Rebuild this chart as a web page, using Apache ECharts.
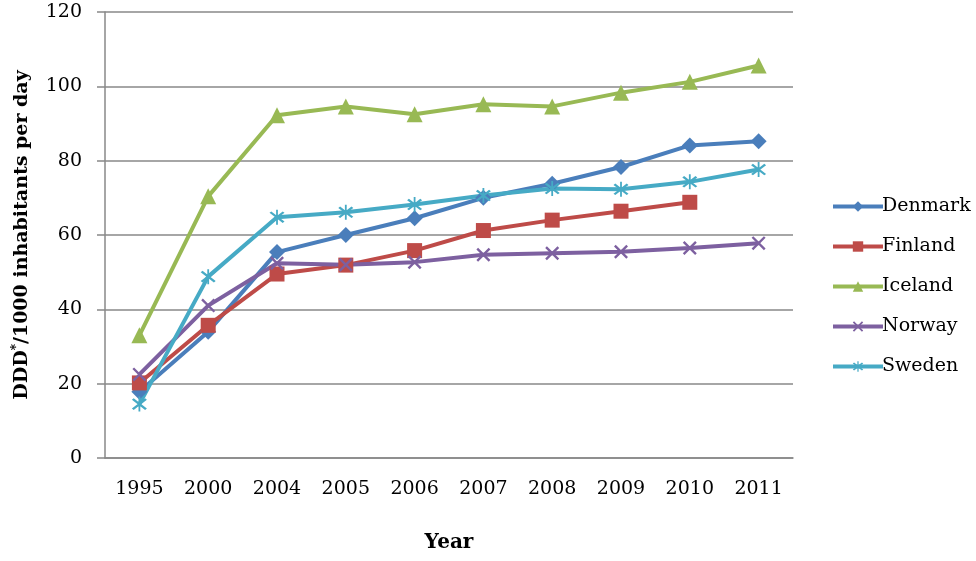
<!DOCTYPE html>
<html>
<head>
<meta charset="utf-8">
<title>DDD per 1000 inhabitants per day</title>
<script src="https://cdn.jsdelivr.net/npm/echarts@6/dist/echarts.min.js"></script>
<style>
  html, body { margin: 0; padding: 0; background: #fff; }
  #chart { width: 976px; height: 561px; }
</style>
</head>
<body>
<div id="chart"></div>
<script>
// data
var years = ['1995', '2000', '2004', '2005', '2006', '2007', '2008', '2009', '2010', '2011'];
var denmark = [17.8, 34, 55.4, 60, 64.5, 70, 73.8, 78.3, 84.1, 85.2];
var finland = [20.2, 35.7, 49.5, 51.9, 55.8, 61.2, 64, 66.4, 68.8, null];
var iceland = [33, 70.4, 92.2, 94.6, 92.5, 95.2, 94.6, 98.3, 101.2, 105.6];
var norway = [22.5, 41, 52.4, 52, 52.7, 54.7, 55.1, 55.5, 56.5, 57.8];
var sweden = [14.5, 48.8, 64.8, 66.1, 68.2, 70.6, 72.5, 72.3, 74.3, 77.6];

var colorList = ['#4A7EBB', '#BE4B48', '#98B954', '#7D60A0', '#46AAC5'];

var chart = echarts.init(document.getElementById('chart'));

var fontFam = '"DejaVu Serif", "Liberation Serif", serif';

// x shaped marker and asterisk marker as filled outlines
var crossPath = 'path://M0,1.2 L1.2,0 L10,8.8 L8.8,10 Z M8.8,0 L10,1.2 L1.2,10 L0,8.8 Z';
var starPath = 'path://M0,1.2 L1.2,0 L10,8.8 L8.8,10 Z M8.8,0 L10,1.2 L1.2,10 L0,8.8 Z M4.4,-1.5 L5.6,-1.5 L5.6,11.5 L4.4,11.5 Z';

function makeSeries(name, data, idx, symbol, size) {
    return {
        name: name,
        type: 'line',
        data: data,
        symbol: symbol,
        symbolSize: size,
        showSymbol: true,
        connectNulls: false,
        lineStyle: { width: 4, color: colorList[idx] },
        itemStyle: { color: colorList[idx], borderColor: colorList[idx], borderWidth: 0 },
        emphasis: { disabled: true }
    };
}

var option = {
    backgroundColor: '#fff',
    animation: false,
    textStyle: { fontFamily: fontFam },
    grid: {
        left: 105,
        right: 183,
        top: 12,
        bottom: 103
    },
    legend: {
        orient: 'vertical',
        left: 826,
        top: 192,
        itemWidth: 50,
        itemHeight: 13,
        itemGap: 21,
        lineStyle: { width: 4 },
        textStyle: { fontFamily: fontFam, fontSize: 19, color: '#000', padding: [0, 0, 0, -6] },
        data: ['Denmark', 'Finland', 'Iceland', 'Norway', 'Sweden']
    },
    xAxis: {
        type: 'category',
        data: years,
        boundaryGap: true,
        name: 'Year',
        nameLocation: 'middle',
        nameGap: 75,
        nameTextStyle: { fontFamily: fontFam, fontSize: 20, fontWeight: 'bold', color: '#000' },
        axisLine: { show: true, lineStyle: { color: '#888', width: 1.5 } },
        axisTick: { show: false },
        axisLabel: { color: '#000', fontSize: 19, margin: 22, fontFamily: fontFam }
    },
    yAxis: {
        type: 'value',
        min: 0,
        max: 120,
        interval: 20,
        name: 'DDD{sup|*}/1000 inhabitants per day',
        nameLocation: 'middle',
        nameGap: 72,
        nameRotate: 90,
        nameTextStyle: {
            fontFamily: fontFam, fontSize: 19, fontWeight: 'bold', color: '#000',
            rich: {
                sup: { fontFamily: fontFam, fontSize: 12, fontWeight: 'bold', color: '#000', verticalAlign: 'top', lineHeight: 22 }
            }
        },
        axisLine: { show: true, lineStyle: { color: '#888', width: 1.5 } },
        axisTick: { show: true, length: 8, lineStyle: { color: '#888', width: 1.5 } },
        axisLabel: { color: '#000', fontSize: 19, margin: 23, fontFamily: fontFam },
        splitLine: { show: true, lineStyle: { color: '#888', width: 1.5 } }
    },
    series: [
        makeSeries('Denmark', denmark, 0, 'diamond', 16),
        makeSeries('Finland', finland, 1, 'rect', 15),
        makeSeries('Iceland', iceland, 2, 'triangle', 16),
        makeSeries('Norway', norway, 3, crossPath, 14),
        makeSeries('Sweden', sweden, 4, starPath, 15)
    ]
};

chart.setOption(option);
window.addEventListener('resize', function () {
    chart.resize();
});
</script>
</body>
</html>
